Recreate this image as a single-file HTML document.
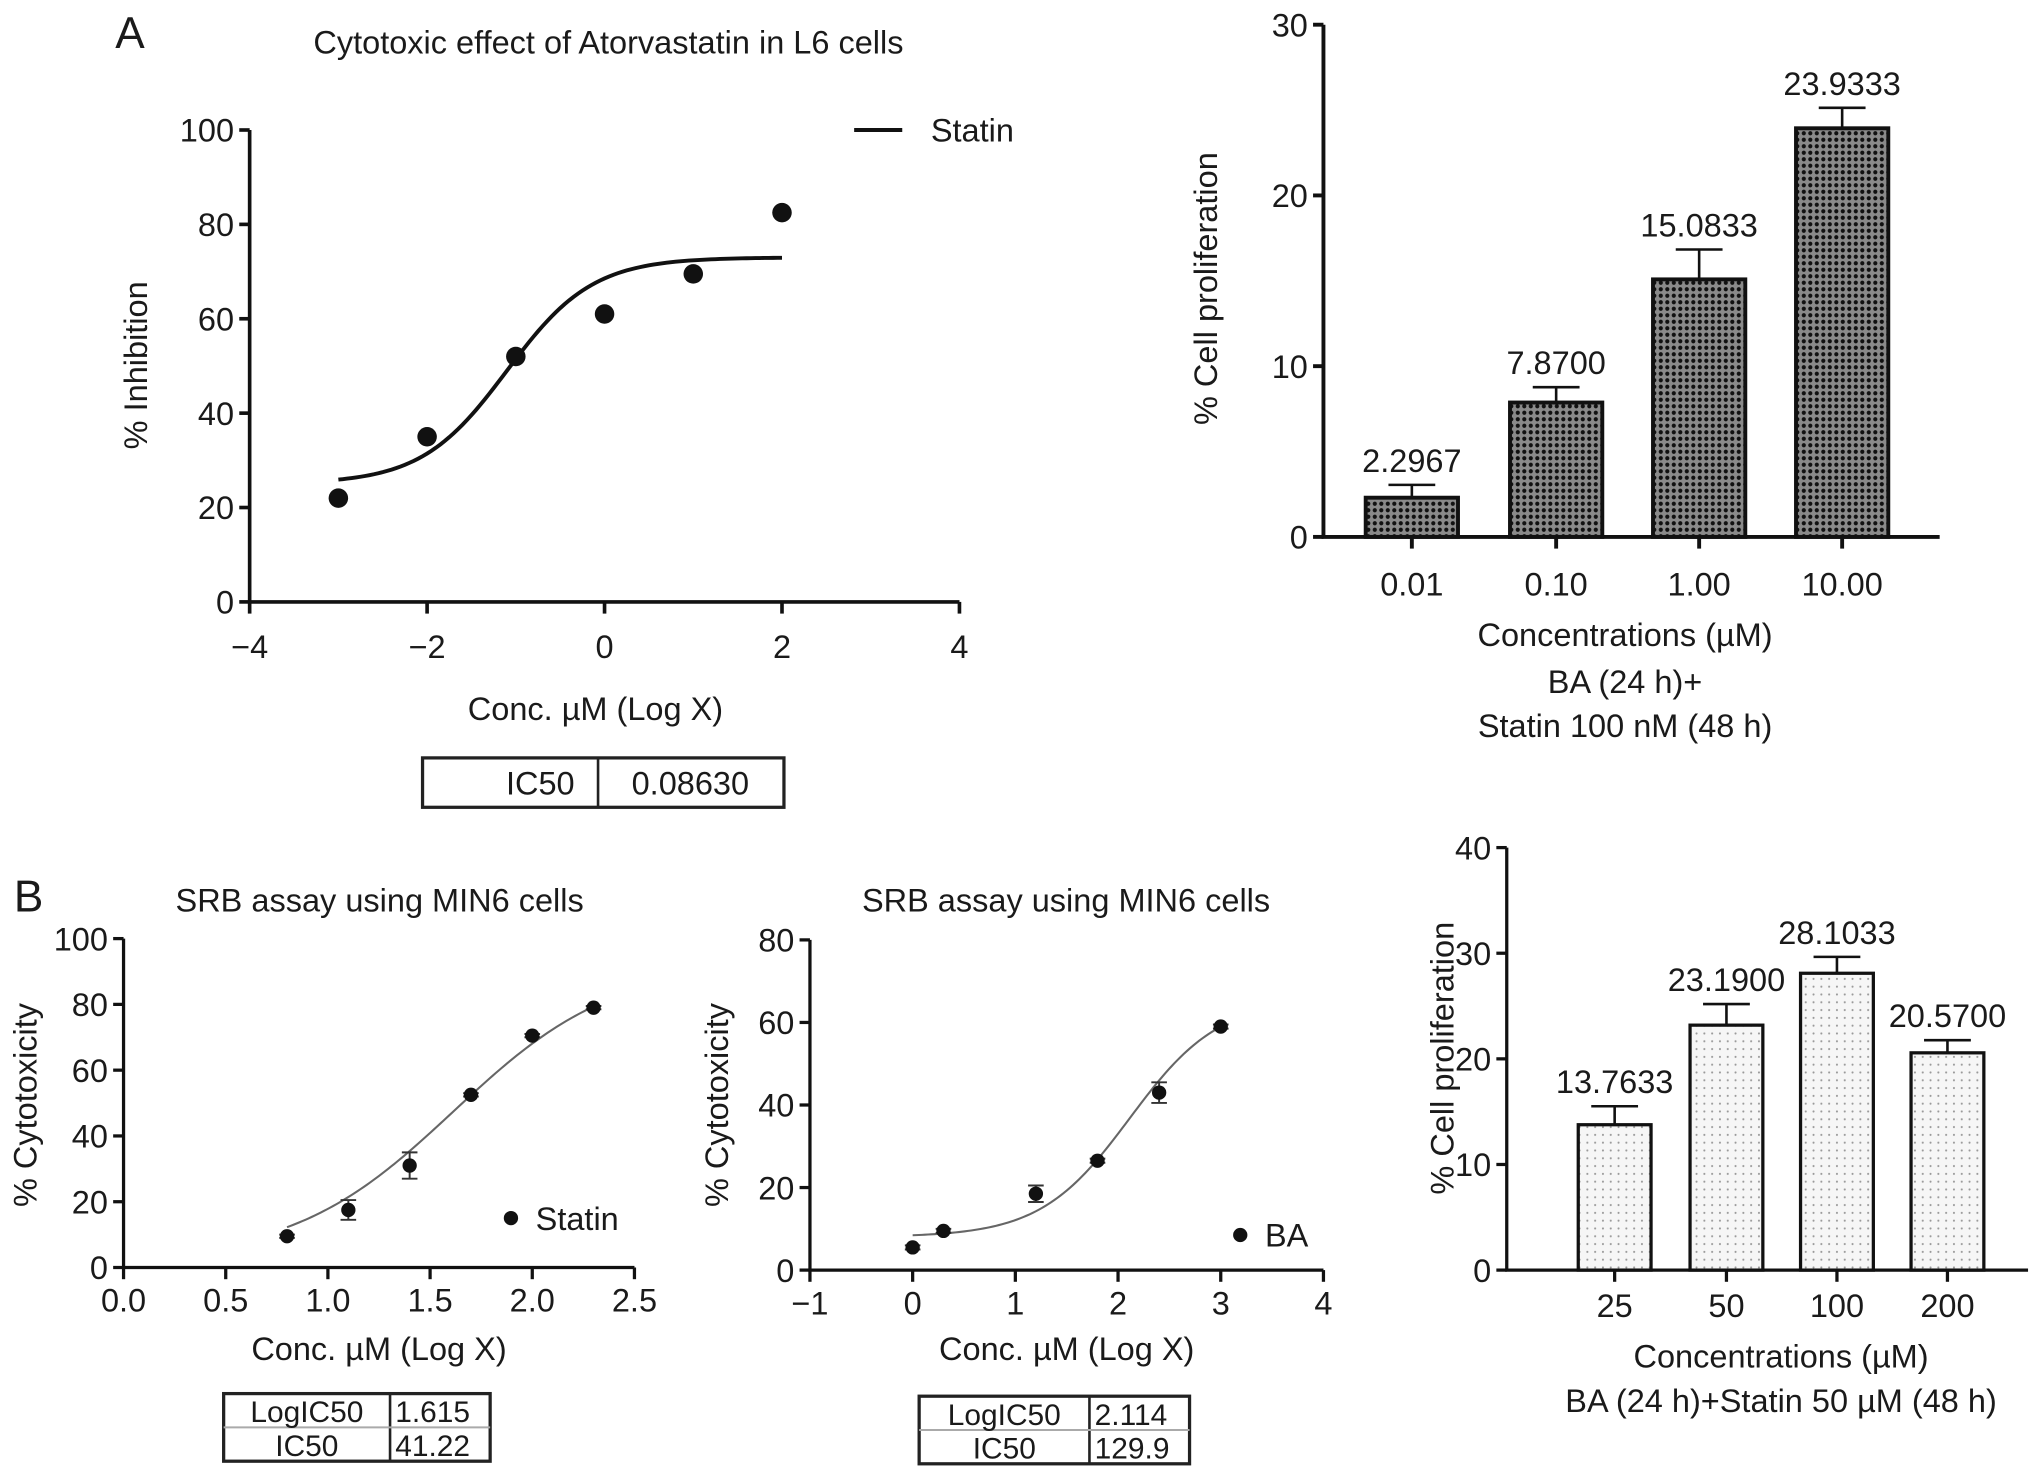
<!DOCTYPE html>
<html><head><meta charset="utf-8"><style>
html,body{margin:0;padding:0;background:#fff;}
svg{display:block;font-family:"Liberation Sans",Arial,sans-serif;}
text{fill:#1a1a1a;}
</style></head><body>
<svg id="fig" xmlns="http://www.w3.org/2000/svg" width="2032" height="1482" viewBox="0 0 1563 1140">
<defs>
<pattern id="darkPat" width="5" height="5" patternUnits="userSpaceOnUse"><rect width="5" height="5" fill="#8a8a8a"/><circle cx="2.5" cy="2.5" r="1.6" fill="#111"/></pattern>
<pattern id="lightPat" width="6" height="6" patternUnits="userSpaceOnUse"><rect width="6" height="6" fill="#f6f6f6"/><circle cx="3" cy="3" r="0.8" fill="#999"/></pattern>
</defs>
<g id="root"></g>
</svg>
<script>
// ---------- data ----------
const aLineX = [-3, -2, -1, 0, 1, 2];
const aLineY = [22, 35, 52, 61, 69.5, 82.5];
const aFit = [25, 73, -1.1, 0.9]; // bottom, top, logIC50, hill
const aXTicks = [-4, -2, 0, 2, 4];
const aXTickLabels = ["\u22124", "\u22122", "0", "2", "4"];
const aYTicks = [0, 20, 40, 60, 80, 100];

const aBarCats = ["0.01", "0.10", "1.00", "10.00"];
const aBarVals = [2.2967, 7.87, 15.0833, 23.9333];
const aBarErr = [0.75, 0.9, 1.75, 1.2];
const aBarLabels = ["2.2967", "7.8700", "15.0833", "23.9333"];
const aBarYTicks = [0, 10, 20, 30];

const bStatX = [0.8, 1.1, 1.4, 1.7, 2.0, 2.3];
const bStatY = [9.5, 17.5, 31, 52.5, 70.5, 79];
const bStatErr = [0.5, 3, 4, 0.5, 0.5, 0.5];
const bStatFit = [2, 93, 1.615, 1.1];
const bStatXTicks = [0, 0.5, 1, 1.5, 2, 2.5];
const bStatXLabels = ["0.0", "0.5", "1.0", "1.5", "2.0", "2.5"];
const bStatYTicks = [0, 20, 40, 60, 80, 100];

const bBaX = [0, 0.3, 1.2, 1.8, 2.4, 3];
const bBaY = [5.5, 9.5, 18.5, 26.5, 43, 59];
const bBaErr = [0.5, 0.5, 2, 0.5, 2.5, 0.5];
const bBaFit = [8, 65.6, 2.114, 1];
const bBaXTicks = [-1, 0, 1, 2, 3, 4];
const bBaXLabels = ["\u22121", "0", "1", "2", "3", "4"];
const bBaYTicks = [0, 20, 40, 60, 80];

const bBarCats = ["25", "50", "100", "200"];
const bBarVals = [13.7633, 23.19, 28.1033, 20.57];
const bBarErr = [1.75, 2.0, 1.55, 1.2];
const bBarLabels = ["13.7633", "23.1900", "28.1033", "20.5700"];
const bBarYTicks = [0, 10, 20, 30, 40];

// ---------- helpers ----------
const FS = 25;
const NS = "http://www.w3.org/2000/svg";
const root = document.getElementById("root");
function mk(tag, attrs, parent) {
  const e = document.createElementNS(NS, tag);
  for (const k in attrs) e.setAttribute(k, attrs[k]);
  (parent || root).appendChild(e);
  return e;
}
function txt(s, x, y, size, anchor, parent, rot) {
  const t = mk("text", {x: x, y: y, "font-size": size, "text-anchor": anchor || "middle"}, parent);
  if (rot) t.setAttribute("transform", "rotate(-90 " + x + " " + y + ")");
  t.textContent = s;
  return t;
}
function lin(d0, d1, r0, r1) { return v => r0 + (v - d0) * (r1 - r0) / (d1 - d0); }
function fourPL(p, x) { return p[0] + (p[1] - p[0]) / (1 + Math.pow(10, (p[2] - x) * p[3])); }

function axes(g, sx, sy, xTicks, xLabels, yTicks, x0, x1, y0, y1, lw, xOff) {
  const ax = mk("path", {d: "M" + x0 + " " + y1 + " V" + y0 + " H" + x1, stroke: "#111", "stroke-width": lw, fill: "none"}, g);
  
  
  yTicks.forEach(v => {
    mk("line", {x1: x0 - 8, x2: x0, y1: sy(v), y2: sy(v), stroke: "#111", "stroke-width": lw}, g);
    const t = txt(String(v), x0 - 12, sy(v) + 9, FS, "end", g);
    
    
  });
  if (xTicks) xTicks.forEach((v, i) => {
    mk("line", {x1: sx(v), x2: sx(v), y1: y0, y2: y0 + 9, stroke: "#111", "stroke-width": lw}, g);
    const t = txt(xLabels[i], sx(v), y0 + xOff, FS, "middle", g);
    
    
  });
}
function curve(g, p, xa, xb, sx, sy, color, w) {
  let d = "";
  for (let i = 0; i <= 100; i++) {
    const x = xa + (xb - xa) * i / 100;
    d += (i ? "L" : "M") + sx(x).toFixed(2) + " " + sy(fourPL(p, x)).toFixed(2);
  }
  const c = mk("path", {d: d, stroke: color, "stroke-width": w, fill: "none"}, g);
  
  
}
function table(g, x, y, w, h, divX, rows) {
  mk("rect", {x: x, y: y, width: w, height: h, fill: "none", stroke: "#222", "stroke-width": 2.5}, g);
  mk("line", {x1: divX, x2: divX, y1: y, y2: y + h, stroke: "#222", "stroke-width": 2}, g);
  const rh = h / rows.length;
  rows.forEach((r, i) => {
    if (i > 0) mk("line", {x1: x, x2: x + w, y1: y + rh * i, y2: y + rh * i, stroke: "#aaa", "stroke-width": 1.5}, g);
  });
  return rh;
}
function group(name) {
  const g = mk("g", {});
  
  
  return g;
}

// ---------- Panel A left ----------
(function () {
  const g = group("panel-a-dose-response");
  const lA = txt("A", 100, 37, 34, "middle", g);
  
  
  const tt = txt("Cytotoxic effect of Atorvastatin in L6 cells", 468, 41, FS, "middle", g);
  
  
  const sx = lin(-4, 4, 192, 738), sy = lin(0, 100, 463, 100);
  axes(g, sx, sy, aXTicks, aXTickLabels, aYTicks, 192, 738, 463, 100, 2.8, 43);
  curve(g, aFit, -3, 2, sx, sy, "#111", 3);
  aLineX.forEach((x, i) => {
    const c = mk("circle", {cx: sx(x), cy: sy(aLineY[i]), r: 7.5, fill: "#111"}, g);
    
    
  });
  const yl = txt("% Inhibition", 113, 281, FS, "middle", g, true);
  
  
  const xl = txt("Conc. \u00b5M (Log X)", 458, 554, FS, "middle", g);
  
  
  const lg = mk("line", {x1: 657, x2: 694, y1: 100, y2: 100, stroke: "#111", "stroke-width": 3}, g);
  
  
  const lt = txt("Statin", 716, 109, FS, "start", g);
  
  
  table(g, 325, 583, 278, 38, 460, [1]);
  const t1 = txt("IC50", 442, 611, FS, "end", g);
  
  
  const t2 = txt("0.08630", 531, 611, FS, "middle", g);
  
  
})();

// ---------- bar chart helper ----------
function bars(name, cats, vals, errs, labels, yTicks, yMax, x0, x1, y0, y1, centers, bw, fill, ylabel, ylx, yly, xl, lw, xOff) {
  const g = group(name);
  const sy = lin(0, yMax, y0, y1);
  axes(g, null, sy, null, null, yTicks, x0, x1, y0, y1, lw, xOff);
  cats.forEach((c, i) => {
    const cx = centers[i];
    const top = sy(vals[i]), et = sy(vals[i] + errs[i]);
    const el = mk("line", {x1: cx, x2: cx, y1: et, y2: top, stroke: "#111", "stroke-width": 2}, g);
    
    
    mk("line", {x1: cx - 18, x2: cx + 18, y1: et, y2: et, stroke: "#111", "stroke-width": 2}, g);
    const b = mk("rect", {x: cx - bw / 2, y: top, width: bw, height: y0 - top, fill: fill, stroke: "#111", "stroke-width": lw}, g);
    
    
    const vl = txt(labels[i], cx, et - 10, FS, "middle", g);
    
    
    mk("line", {x1: cx, x2: cx, y1: y0, y2: y0 + 9, stroke: "#111", "stroke-width": lw}, g);
    const tl = txt(c, cx, y0 + xOff, FS, "middle", g);
    
    
  });
  const yt = txt(ylabel, ylx, yly, FS, "middle", g, true);
  
  
  xl.forEach(l => {
    const t = txt(l[0], l[1], l[2], FS, "middle", g);
    
    
  });
}
bars("panel-a-bar-chart", aBarCats, aBarVals, aBarErr, aBarLabels, aBarYTicks, 30, 1018, 1492, 413, 19,
  [1086, 1197, 1307, 1417], 71, "url(#darkPat)", "% Cell proliferation", 936, 222,
  [["Concentrations (\u00b5M)", 1250, 497], ["BA (24 h)+", 1250, 533], ["Statin 100 nM (48 h)", 1250, 567]], 3, 45);
bars("panel-b-bar-chart", bBarCats, bBarVals, bBarErr, bBarLabels, bBarYTicks, 40, 1159, 1560, 977, 652,
  [1242, 1328, 1413, 1498], 56, "url(#lightPat)", "% Cell proliferation", 1118, 814,
  [["Concentrations (\u00b5M)", 1370, 1052], ["BA (24 h)+Statin 50 \u00b5M (48 h)", 1370, 1086]], 2.5, 36);

// ---------- Panel B scatter helper ----------
function scatter(name, xs, ys, errs, fit, xTicks, xLabels, yTicks, xMin, xMax, yMax, x0, x1, y0, y1, title, tx, ylx, legX, legY, legName, tbl) {
  const g = group(name);
  const sx = lin(xMin, xMax, x0, x1), sy = lin(0, yMax, y0, y1);
  axes(g, sx, sy, xTicks, xLabels, yTicks, x0, x1, y0, y1, 2.5, 34);
  curve(g, fit, xs[0], xs[xs.length - 1], sx, sy, "#666", 1.6);
  xs.forEach((x, i) => {
    const cx = sx(x), cy = sy(ys[i]);
    const e1 = sy(ys[i] + errs[i]), e2 = sy(ys[i] - errs[i]);
    mk("path", {d: "M" + cx + " " + e1 + "V" + e2 + "M" + (cx - 6) + " " + e1 + "H" + (cx + 6) + "M" + (cx - 6) + " " + e2 + "H" + (cx + 6), stroke: "#333", "stroke-width": 1.5, fill: "none"}, g);
    const c = mk("circle", {cx: cx, cy: cy, r: 5.5, fill: "#111"}, g);
    
    
  });
  const t = txt(title, tx, 701, FS, "middle", g);
  
  
  const yl = txt("% Cytotoxicity", ylx, 850, FS, "middle", g, true);
  
  
  const xl = txt("Conc. \u00b5M (Log X)", (x0 + x1) / 2, 1046, FS, "middle", g);
  
  
  const ld = mk("circle", {cx: legX, cy: legY, r: 5.5, fill: "#111"}, g);
  
  
  const lt = txt(legName, legX + 19, legY + 9, FS, "start", g);
  
  
  const rh = table(g, tbl[0], tbl[1], tbl[2], tbl[3], tbl[4], [1, 2]);
  [["LogIC50", tbl[5]], ["IC50", tbl[6]]].forEach((r, i) => {
    const a = txt(r[0], (tbl[0] + tbl[4]) / 2, tbl[1] + rh * i + 22, 23, "middle", g);
    
    
    const b = txt(r[1], tbl[4] + 4, tbl[1] + rh * i + 22, 23, "start", g);
    
    
  });
}
const lb = txt("B", 22, 701, 34, "middle");


scatter("panel-b-statin-curve", bStatX, bStatY, bStatErr, bStatFit, bStatXTicks, bStatXLabels, bStatYTicks, 0, 2.5, 100, 95, 488, 975, 722,
  "SRB assay using MIN6 cells", 292, 28, 393, 937, "Statin", [172, 1072, 205, 52, 300, "1.615", "41.22"]);
scatter("panel-b-ba-curve", bBaX, bBaY, bBaErr, bBaFit, bBaXTicks, bBaXLabels, bBaYTicks, -1, 4, 80, 623, 1018, 977, 723,
  "SRB assay using MIN6 cells", 820, 560, 954, 950, "BA", [707, 1074, 208, 52, 838, "2.114", "129.9"]);
</script>
</body></html>
